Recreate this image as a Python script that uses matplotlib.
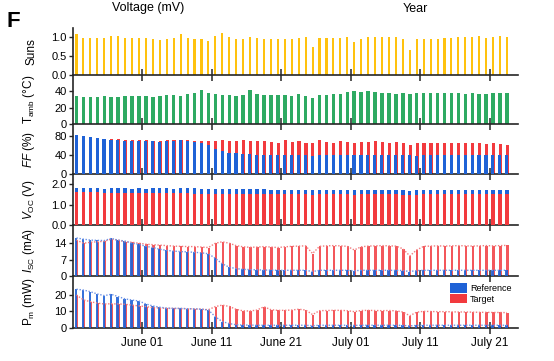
import datetime as dt
import matplotlib
matplotlib.use('Agg')
import matplotlib.pyplot as plt
import matplotlib.dates as mdates
from matplotlib.patches import Patch

plt.rcParams['font.family'] = ['Liberation Sans', 'DejaVu Sans']
plt.rcParams['mathtext.fontset'] = 'custom'
plt.rcParams['mathtext.rm'] = 'Liberation Sans'
plt.rcParams['mathtext.it'] = 'Liberation Sans:italic'

# ---------------- data (daily peak values, May 22 .. July 23) ----------------
first_day = "2021-05-22"
n_days = 63

suns = [1.07, 0.97, 0.97, 0.97, 0.98, 1.03, 1.03, 0.98, 0.97, 0.97,
        0.97, 0.94, 0.92, 0.94, 0.97, 1.07, 0.97, 0.94, 0.94, 0.90,
        1.03, 1.10, 1.01, 0.94, 0.94, 0.99, 0.97, 0.94, 0.94, 0.94,
        0.94, 0.94, 0.97, 1.01, 0.75, 0.97, 0.97, 0.98, 0.98, 1.01,
        0.86, 0.94, 0.99, 0.99, 1.01, 0.99, 0.99, 0.94, 0.66, 0.94,
        0.94, 0.94, 0.94, 0.98, 0.98, 0.99, 0.99, 1.01, 1.03, 0.97,
        0.99, 1.03, 1.01]

t_amb = [34, 33, 33, 33, 34, 33, 33, 34, 34, 34,
         34, 33, 34, 35, 35, 34, 36, 37, 41, 37,
         36, 35, 35, 34, 35, 41, 36, 35, 35, 35,
         35, 34, 36, 34, 32, 35, 35, 36, 36, 39,
         40, 39, 40, 39, 38, 37, 36, 37, 36, 38,
         37, 37, 37, 37, 37, 37, 36, 37, 36, 36,
         37, 37, 37]

ff_ref = [81, 79, 77, 76, 73, 72, 71, 70, 69, 68,
          68, 68, 67, 68, 69, 71, 69, 67, 64, 60,
          53, 48, 44, 43, 41, 41, 39, 39, 39, 40,
          39, 39, 40, 39, 38, 39, 39, 40, 39, 39,
          40, 39, 39, 40, 40, 39, 39, 40, 39, 38,
          39, 40, 40, 39, 40, 40, 39, 40, 40, 39,
          40, 40, 40]
ff_tgt = [82, 79, 78, 76, 74, 74, 73, 72, 72, 71,
          71, 70, 70, 71, 71, 72, 71, 70, 69, 70,
          69, 71, 70, 68, 71, 70, 69, 70, 67, 65,
          71, 67, 69, 65, 64, 71, 67, 65, 69, 67,
          65, 67, 67, 69, 67, 65, 67, 65, 60, 65,
          64, 65, 64, 65, 64, 65, 64, 64, 64, 62,
          64, 62, 60]

voc_ref = [1.80, 1.79, 1.80, 1.79, 1.78, 1.79, 1.80, 1.79, 1.78, 1.79,
           1.78, 1.79, 1.80, 1.79, 1.78, 1.79, 1.80, 1.79, 1.78, 1.78,
           1.77, 1.78, 1.77, 1.76, 1.77, 1.76, 1.75, 1.76, 1.74, 1.73,
           1.74, 1.73, 1.73, 1.74, 1.70, 1.73, 1.74, 1.73, 1.73, 1.74,
           1.72, 1.73, 1.74, 1.73, 1.73, 1.74, 1.73, 1.73, 1.69, 1.72,
           1.73, 1.74, 1.73, 1.73, 1.74, 1.73, 1.73, 1.74, 1.73, 1.73,
           1.74, 1.73, 1.73]
voc_tgt = [1.62, 1.61, 1.60, 1.60, 1.59, 1.59, 1.58, 1.58, 1.57, 1.57,
           1.57, 1.56, 1.56, 1.56, 1.55, 1.55, 1.55, 1.54, 1.54, 1.54,
           1.53, 1.53, 1.53, 1.52, 1.52, 1.52, 1.51, 1.51, 1.51, 1.50,
           1.50, 1.50, 1.50, 1.50, 1.46, 1.50, 1.50, 1.50, 1.50, 1.50,
           1.48, 1.50, 1.50, 1.50, 1.50, 1.50, 1.50, 1.49, 1.45, 1.49,
           1.50, 1.50, 1.50, 1.50, 1.50, 1.50, 1.50, 1.50, 1.50, 1.50,
           1.50, 1.50, 1.50]

isc_ref = [16.0, 15.5, 15.1, 15.0, 14.9, 15.8, 15.1, 14.7, 13.8, 13.3,
           12.5, 12.0, 11.3, 10.8, 10.5, 10.3, 10.2, 10.0, 9.8, 9.4,
           7.5, 5.2, 3.8, 3.2, 2.9, 2.8, 2.7, 2.6, 2.6, 2.5,
           2.5, 2.5, 2.5, 2.5, 2.0, 2.5, 2.5, 2.5, 2.5, 2.5,
           2.3, 2.5, 2.5, 2.5, 2.5, 2.5, 2.5, 2.4, 2.0, 2.4,
           2.5, 2.5, 2.5, 2.5, 2.5, 2.5, 2.5, 2.5, 2.5, 2.5,
           2.5, 2.5, 2.5]
isc_tgt = [15.1, 13.8, 14.2, 14.4, 14.6, 15.5, 15.1, 14.4, 14.2, 13.8,
           13.4, 13.2, 13.0, 12.8, 12.6, 12.5, 12.4, 12.4, 12.2, 12.0,
           13.8, 14.4, 13.8, 12.8, 12.3, 12.1, 12.2, 12.4, 12.2, 12.0,
           12.3, 12.5, 12.6, 12.7, 9.5, 12.5, 12.7, 12.8, 12.7, 12.5,
           11.0, 12.3, 12.6, 12.7, 12.8, 12.7, 12.6, 11.5, 8.5, 11.0,
           12.5, 12.6, 12.7, 12.6, 12.7, 12.8, 12.7, 12.6, 12.7, 12.8,
           12.7, 12.8, 12.9]

pm_ref = [23.5, 23.0, 22.0, 20.6, 19.6, 20.4, 19.0, 17.6, 16.9, 16.3,
          14.5, 13.3, 12.5, 12.0, 11.8, 11.8, 11.6, 11.5, 11.3, 10.8,
          6.7, 3.7, 2.5, 1.8, 1.6, 1.6, 1.5, 1.5, 1.5, 1.5,
          1.5, 1.5, 1.5, 1.5, 1.2, 1.5, 1.5, 1.5, 1.5, 1.5,
          1.4, 1.5, 1.5, 1.5, 1.5, 1.5, 1.5, 1.4, 1.1, 1.4,
          1.5, 1.5, 1.5, 1.5, 1.5, 1.5, 1.5, 1.5, 1.5, 1.5,
          1.5, 1.5, 1.5]
pm_tgt = [20.0, 17.0, 15.9, 15.0, 14.5, 14.6, 14.5, 14.3, 13.8, 13.3,
          12.9, 12.3, 12.0, 11.8, 11.8, 11.7, 11.6, 11.5, 11.3, 11.0,
          12.9, 13.8, 13.0, 11.2, 10.3, 10.2, 10.8, 12.8, 11.0, 10.6,
          10.6, 10.8, 11.3, 10.8, 8.0, 10.4, 10.5, 10.6, 10.6, 10.4,
          9.8, 10.5, 10.6, 10.5, 10.4, 10.5, 10.3, 9.6, 7.3, 9.5,
          10.0, 9.9, 9.8, 9.8, 9.7, 9.6, 9.6, 9.5, 9.4, 9.4,
          9.3, 9.3, 9.2]

tick_dates = ["2021-06-01", "2021-06-11", "2021-06-21",
              "2021-07-01", "2021-07-11", "2021-07-21"]
tick_labels = ["June 01", "June 11", "June 21", "July 01", "July 11", "July 21"]
series_labels = ["Reference", "Target"]

# ---------------- styling ----------------
YELLOW = "#FFC20E"
GREEN = "#2EAA62"
BLUE = "#1F62D6"
RED = "#F23A3E"
BLUE_L = "#6E93E6"
RED_L = "#F27C7E"
SPINE = "#262626"

start = dt.datetime.fromisoformat(first_day) + dt.timedelta(hours=12)
x = mdates.date2num([start + dt.timedelta(days=i) for i in range(n_days)])
xt = mdates.date2num([dt.datetime.fromisoformat(d) for d in tick_dates])
xlim = (mdates.date2num(dt.datetime(2021, 5, 22)),
        mdates.date2num(dt.datetime(2021, 7, 25, 2)))

W, H = 554, 361
fig = plt.figure(figsize=(W / 100, H / 100), dpi=100)

tops = [28, 75, 124, 174, 225, 276.3]
bots = [75, 124, 174, 225, 276.3, 327.7]
L, R = 73, 518

axes = []
for t, b in zip(tops, bots):
    ax = fig.add_axes([L / W, 1 - b / H, (R - L) / W, (b - t) / H])
    ax.set_xlim(*xlim)
    for s in ("top", "right"):
        ax.spines[s].set_visible(False)
    for s in ("left", "bottom"):
        ax.spines[s].set_color(SPINE)
        ax.spines[s].set_linewidth(1.2)
    ax.set_xticks(xt)
    ax.set_xticklabels(tick_labels)
    ax.tick_params(axis="x", direction="inout", length=9, width=1.1,
                   color=SPINE, labelsize=8.5, pad=2)
    ax.tick_params(axis="y", direction="out", length=3, width=1,
                   color=SPINE, labelsize=8, pad=1.5)
    ax.patch.set_alpha(0)
    axes.append(ax)

for ax in axes[:-1]:
    ax.tick_params(axis="x", labelbottom=False)

a_s, a_t, a_ff, a_v, a_i, a_p = axes

# Suns
a_s.bar(x, suns, width=0.3, color=YELLOW, linewidth=0)
a_s.set_ylim(0, 1.24)
a_s.set_yticks([0, 0.5, 1.0])
a_s.set_yticklabels(["0.0", "0.5", "1.0"])
a_s.set_ylabel("Suns", fontsize=8.5)

# Tamb
a_t.bar(x, t_amb, width=0.5, color=GREEN, linewidth=0)
a_t.set_ylim(0, 59.4)
a_t.set_yticks([0, 20, 40])
a_t.set_ylabel("T$_{\\mathrm{amb}}$ (°C)", fontsize=8.5)

# FF : reference in front
a_ff.bar(x + 0.05, ff_tgt, width=0.45, color=RED, linewidth=0, zorder=2)
a_ff.bar(x - 0.03, ff_ref, width=0.45, color=BLUE, linewidth=0, zorder=3)
a_ff.set_ylim(0, 104.6)
a_ff.set_yticks([0, 40, 80])
a_ff.set_ylabel("$FF$ (%)", fontsize=8.5)

# Voc : target in front
a_v.bar(x, voc_ref, width=0.48, color=BLUE, linewidth=0, zorder=2)
a_v.bar(x, voc_tgt, width=0.48, color=RED, linewidth=0, zorder=3)
a_v.set_ylim(0, 2.5)
a_v.set_yticks([0, 1, 2])
a_v.set_yticklabels(["0.0", "1.0", "2.0"])
a_v.set_ylabel("$V_{\\mathrm{OC}}$ (V)", fontsize=8.5)

# Isc
a_i.bar(x + 0.07, isc_tgt, width=0.34, color=RED, linewidth=0, alpha=0.85, zorder=2)
a_i.bar(x - 0.07, isc_ref, width=0.34, color=BLUE, linewidth=0, alpha=0.9, zorder=3)
a_i.plot(x, isc_tgt, ls=(0, (1, 1.2)), lw=1.0, color=RED_L, zorder=4)
a_i.plot(x, isc_ref, ls=(0, (1, 1.2)), lw=1.0, color=BLUE_L, zorder=4)
a_i.set_ylim(0, 21.4)
a_i.set_yticks([0, 7, 14])
a_i.set_ylabel("$I_{\\mathrm{SC}}$ (mA)", fontsize=8.5)

# Pm
a_p.bar(x + 0.07, pm_tgt, width=0.34, color=RED, linewidth=0, alpha=0.85, zorder=2)
a_p.bar(x - 0.07, pm_ref, width=0.34, color=BLUE, linewidth=0, alpha=0.9, zorder=3)
a_p.plot(x, pm_tgt, ls=(0, (1, 1.2)), lw=1.0, color=RED_L, zorder=4)
a_p.plot(x, pm_ref, ls=(0, (1, 1.2)), lw=1.0, color=BLUE_L, zorder=4)
a_p.set_ylim(0, 31.4)
a_p.set_yticks([0, 10, 20])
a_p.set_ylabel("P$_{\\mathrm{m}}$ (mW)", fontsize=8.5)

for ax in axes:
    ax.yaxis.set_label_coords((37 - L) / (R - L), 0.5)

handles = [Patch(facecolor=BLUE, edgecolor="none"),
           Patch(facecolor=RED, edgecolor="none")]
a_p.legend(handles, series_labels, loc="upper left",
           bbox_to_anchor=((450 - L) / (R - L), 0.86), frameon=False,
           fontsize=6.5, handlelength=1.9, handleheight=1.25,
           handletextpad=0.3, labelspacing=0.05, borderpad=0, borderaxespad=0)

fig.text(148 / W, 1 - 8 / H, "Voltage (mV)", ha="center", va="center", fontsize=9)
fig.text(415 / W, 1 - 9 / H, "Year", ha="center", va="center", fontsize=9)
fig.text(6 / W, 1 - 27 / H, "F", ha="left", va="baseline", fontsize=16,
         fontweight="bold")

fig.savefig("out.png", dpi=100)
